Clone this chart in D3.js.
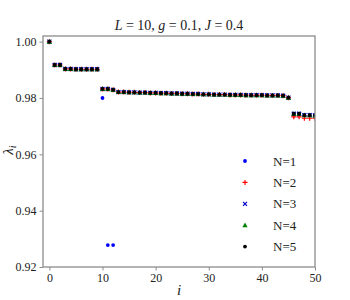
<!DOCTYPE html>
<html><head><meta charset="utf-8">
<script src="https://cdn.jsdelivr.net/npm/d3@7"></script>
<style>body{margin:0;background:#fff}svg{display:block}text{font-family:"Liberation Serif","DejaVu Serif",serif;fill:#222}</style>
</head><body><svg id="c" width="350" height="300"></svg>
<script>
const indices = d3.range(0, 51);
const seriesN1 = [1.0000,0.9917,0.9917,0.9903,0.9903,0.9902,0.9902,0.9902,0.9902,0.9902,
 0.9800,0.9278,0.9278,0.9821,0.9821,0.9820,0.9820,0.9819,0.9819,0.9818,
 0.9818,0.9817,0.9817,0.9816,0.9816,0.9815,0.9815,0.9814,0.9814,0.9813,
 0.9813,0.9812,0.9812,0.9812,0.9811,0.9811,0.9811,0.9810,0.9810,0.9810,
 0.9810,0.9809,0.9809,0.9809,0.9808,0.9801,0.9744,0.9744,0.9739,0.9739,0.9738];
const seriesN2 = [1.0000,0.9917,0.9917,0.9903,0.9903,0.9902,0.9902,0.9902,0.9902,0.9902,
 0.9832,0.9832,0.9829,0.9821,0.9821,0.9820,0.9820,0.9819,0.9819,0.9818,
 0.9818,0.9817,0.9817,0.9816,0.9816,0.9815,0.9815,0.9814,0.9814,0.9813,
 0.9813,0.9812,0.9812,0.9812,0.9811,0.9811,0.9811,0.9810,0.9810,0.9810,
 0.9810,0.9809,0.9809,0.9809,0.9808,0.9801,0.9733,0.9733,0.9728,0.9728,0.9728];
const seriesN3 = [1.0000,0.9917,0.9917,0.9903,0.9903,0.9902,0.9902,0.9902,0.9902,0.9902,
 0.9832,0.9832,0.9829,0.9821,0.9821,0.9820,0.9820,0.9819,0.9819,0.9818,
 0.9818,0.9817,0.9817,0.9816,0.9816,0.9815,0.9815,0.9814,0.9814,0.9813,
 0.9813,0.9812,0.9812,0.9812,0.9811,0.9811,0.9811,0.9810,0.9810,0.9810,
 0.9810,0.9809,0.9809,0.9809,0.9808,0.9801,0.9744,0.9744,0.9739,0.9739,0.9738];
const seriesN4 = [1.0000,0.9917,0.9917,0.9903,0.9903,0.9902,0.9902,0.9902,0.9902,0.9902,
 0.9832,0.9832,0.9829,0.9821,0.9821,0.9820,0.9820,0.9819,0.9819,0.9818,
 0.9818,0.9817,0.9817,0.9816,0.9816,0.9815,0.9815,0.9814,0.9814,0.9813,
 0.9813,0.9812,0.9812,0.9812,0.9811,0.9811,0.9811,0.9810,0.9810,0.9810,
 0.9810,0.9809,0.9809,0.9809,0.9808,0.9801,0.9744,0.9744,0.9739,0.9739,0.9738];
const seriesN5 = [1.0000,0.9917,0.9917,0.9903,0.9903,0.9902,0.9902,0.9902,0.9902,0.9902,
 0.9832,0.9832,0.9829,0.9821,0.9821,0.9820,0.9820,0.9819,0.9819,0.9818,
 0.9818,0.9817,0.9817,0.9816,0.9816,0.9815,0.9815,0.9814,0.9814,0.9813,
 0.9813,0.9812,0.9812,0.9812,0.9811,0.9811,0.9811,0.9810,0.9810,0.9810,
 0.9810,0.9809,0.9809,0.9809,0.9808,0.9801,0.9744,0.9744,0.9739,0.9739,0.9738];
const seriesNames = ["N=1","N=2","N=3","N=4","N=5"];
const xTicks = [0,10,20,30,40,50];
const yTicks = [0.92,0.94,0.96,0.98,1.00];

const series = [
  {name:seriesNames[0], values:seriesN1, sym:"dot", color:"#0000ff"},
  {name:seriesNames[1], values:seriesN2, sym:"plus", color:"#ff0000"},
  {name:seriesNames[2], values:seriesN3, sym:"x", color:"#0000cc"},
  {name:seriesNames[3], values:seriesN4, sym:"tri", color:"#008000"},
  {name:seriesNames[4], values:seriesN5, sym:"dot", color:"#000000"}
];

const svg = d3.select("#c");
const L=43, R=315, T=36, B=267;
const x = d3.scaleLinear().domain([-1.2,50]).range([L,R]);
const y = d3.scaleLinear().domain([0.92,1.002]).range([B,T]);
const frameColor = "#8c8c8c";
const serif = '"Liberation Serif","DejaVu Serif",serif';

svg.append("defs").append("clipPath").attr("id","clip")
  .append("rect").attr("x",L).attr("y",T).attr("width",R-L).attr("height",B-T);

function drawMarker(g, sym, color, cx, cy){
  if(sym==="dot"){
    g.append("circle").attr("cx",cx).attr("cy",cy).attr("r",1.9).attr("fill",color);
  } else if(sym==="plus"){
    g.append("path").attr("d",`M${cx-2.5},${cy}H${cx+2.5}M${cx},${cy-2.5}V${cy+2.5}`)
      .attr("stroke",color).attr("stroke-width",1.2).attr("fill","none");
  } else if(sym==="x"){
    g.append("path").attr("d",`M${cx-2},${cy-2}L${cx+2},${cy+2}M${cx-2},${cy+2}L${cx+2},${cy-2}`)
      .attr("stroke",color).attr("stroke-width",1.2).attr("fill","none");
  } else if(sym==="tri"){
    g.append("path").attr("d",`M${cx},${cy-2.6}L${cx+2.6},${cy+2}L${cx-2.6},${cy+2}Z`)
      .attr("fill",color);
  }
}

const plot = svg.append("g").attr("clip-path","url(#clip)");
series.forEach(s=>{
  const g = plot.append("g");
  s.values.forEach((v,i)=> drawMarker(g, s.sym, s.color, x(indices[i]), y(v)));
});

// axes
const xAxis = d3.axisBottom(x).tickValues(xTicks).tickSize(3.5).tickPadding(3).tickFormat(d3.format("d"));
const yAxis = d3.axisLeft(y).tickValues(yTicks).tickSize(3.5).tickPadding(3).tickFormat(d3.format(".2f"));
const gx = svg.append("g").attr("transform",`translate(0,${B})`).call(xAxis);
const gy = svg.append("g").attr("transform",`translate(${L},0)`).call(yAxis);
[gx,gy].forEach(g=>{
  g.attr("font-family",serif).attr("font-size",12);
  g.select(".domain").remove();
  g.selectAll(".tick line").attr("stroke",frameColor).attr("stroke-width",1);
  g.selectAll(".tick text").attr("font-size",12).attr("fill","#222").attr("font-family",serif);
});

// frame
svg.append("rect").attr("x",L).attr("y",T).attr("width",R-L).attr("height",B-T)
  .attr("fill","none").attr("stroke",frameColor).attr("stroke-width",1.3);

// title
const title = svg.append("text").attr("x",(L+R)/2).attr("y",30).attr("text-anchor","middle").attr("font-size",14);
[["L",true],[" = 10, ",false],["g",true],[" = 0.1, ",false],["J",true],[" = 0.4",false]].forEach(([t,it])=>{
  title.append("tspan").text(t).attr("font-style", it?"italic":"normal");
});

// axis labels
svg.append("text").attr("x",(L+R)/2).attr("y",295).attr("text-anchor","middle")
  .attr("font-size",15).attr("font-style","italic").text("i");
const yl = svg.append("text").attr("transform",`translate(13,150) rotate(-90)`).attr("text-anchor","middle").attr("font-size",15);
yl.append("tspan").attr("font-style","italic").text("λ");
yl.append("tspan").attr("font-style","italic").attr("font-size",10).attr("dy",3).text("i");

// legend
const lg = svg.append("g");
series.forEach((s,k)=>{
  const cy = 161 + k*21.4;
  drawMarker(lg, s.sym, s.color, 245, cy);
  lg.append("text").attr("x",273).attr("y",cy+4.5).attr("font-size",13).text(s.name);
});
</script></body></html>
